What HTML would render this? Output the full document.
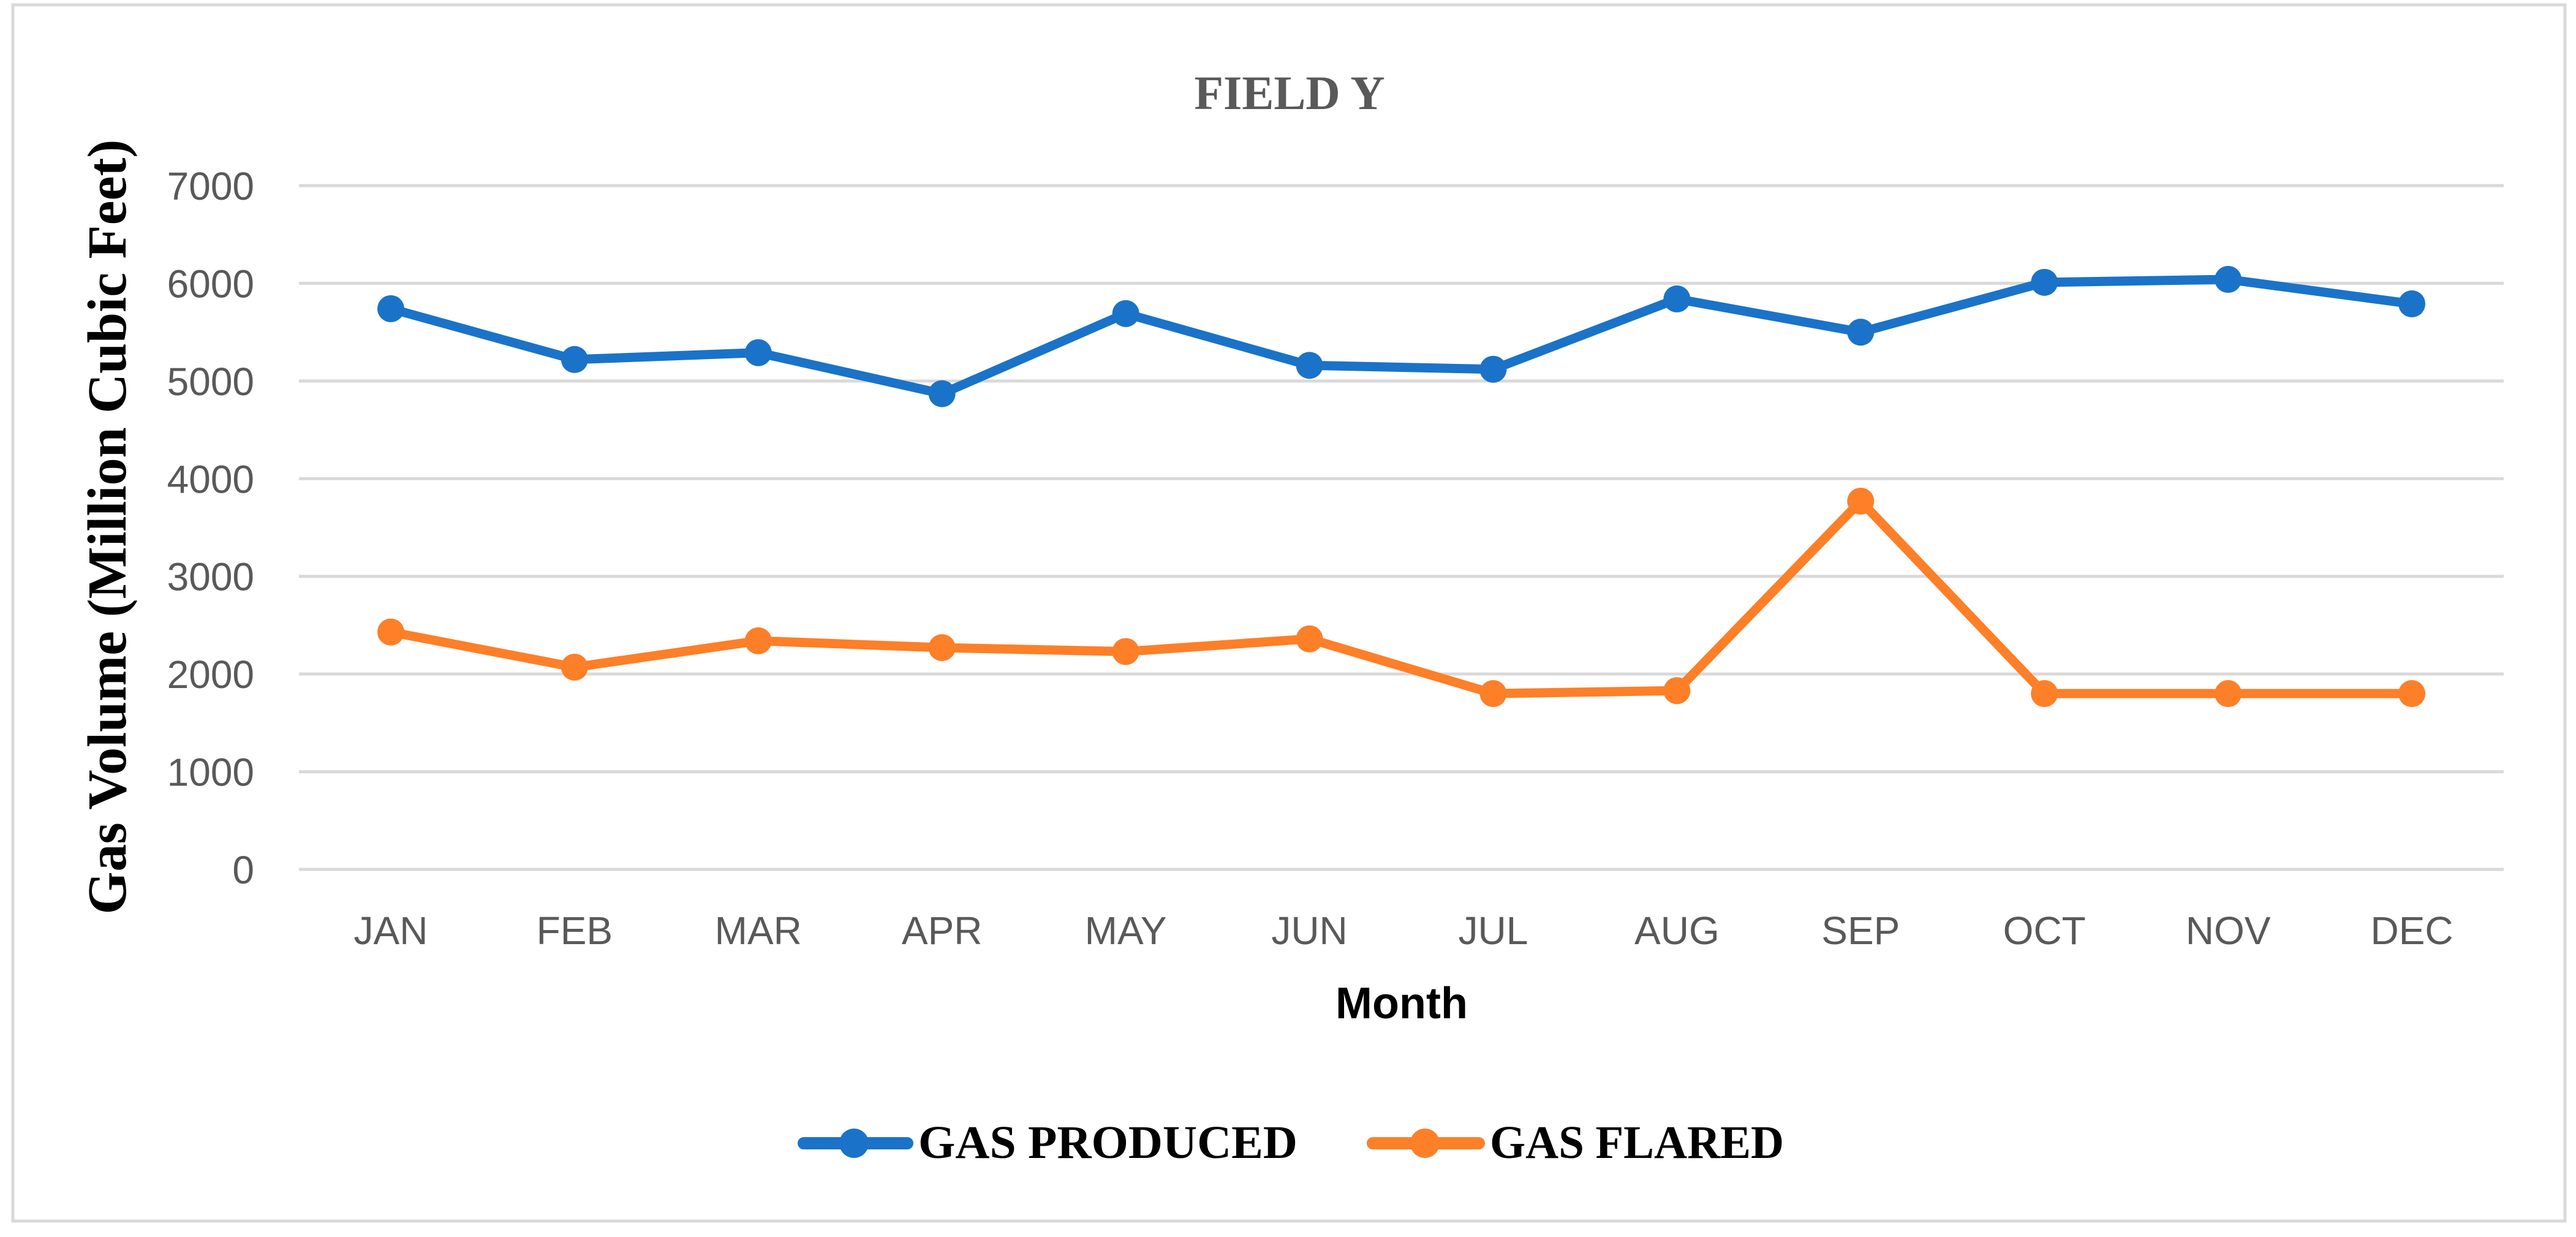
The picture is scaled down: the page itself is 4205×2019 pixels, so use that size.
<!DOCTYPE html>
<html><head><meta charset="utf-8"><style>
html,body{margin:0;padding:0;background:#fff;}
svg{display:block;}
</style></head><body>
<svg id="chart" width="4205" height="2019" xmlns="http://www.w3.org/2000/svg">
<rect x="21" y="8" width="4166" height="1985" fill="#fff" stroke="#d9d9d9" stroke-width="5"/>
<text x="2105" y="178" text-anchor="middle" font-family="Liberation Serif, serif" font-weight="bold" font-size="78" fill="#595959">FIELD Y</text>
<g id="grid"></g><g id="yticks"></g><g id="xticks"></g><g id="series"></g>
<text transform="translate(205,860) rotate(-90)" text-anchor="middle" font-family="Liberation Serif, serif" font-weight="bold" font-size="90" fill="#000">Gas Volume (Million Cubic Feet)</text>
<text x="2288" y="1662" text-anchor="middle" font-family="Liberation Sans, sans-serif" font-weight="bold" font-size="72" fill="#000">Month</text>
<g>
<g>
<line x1="1312" y1="1866" x2="1481" y2="1866" stroke="#1a73c8" stroke-width="20" stroke-linecap="round"/>
<circle cx="1394" cy="1866" r="24" fill="#1a73c8"/>
<text x="1499" y="1890" font-family="Liberation Serif, serif" font-weight="bold" font-size="76" fill="#000" textLength="619" lengthAdjust="spacingAndGlyphs">GAS PRODUCED</text>
</g>
<g>
<line x1="2241" y1="1866" x2="2414" y2="1866" stroke="#fd7f28" stroke-width="20" stroke-linecap="round"/>
<circle cx="2326" cy="1866" r="24" fill="#fd7f28"/>
<text x="2432" y="1890" font-family="Liberation Serif, serif" font-weight="bold" font-size="76" fill="#000" textLength="480" lengthAdjust="spacingAndGlyphs">GAS FLARED</text>
</g>
</g>
</svg>
<script>
const categories=["JAN","FEB","MAR","APR","MAY","JUN","JUL","AUG","SEP","OCT","NOV","DEC"];
const gasProduced=[5740,5220,5290,4870,5690,5160,5120,5840,5500,6010,6040,5790];
const gasFlared=[2430,2070,2340,2270,2230,2360,1800,1830,3770,1800,1800,1800];
const yTicks=[0,1000,2000,3000,4000,5000,6000,7000];
const NS="http://www.w3.org/2000/svg";
const L=488,R=4087,Y0=1419,Y7=303;
function x(i){return L+(R-L)/categories.length*(i+0.5);}
function y(v){return Y0-(Y0-Y7)*v/7000;}
function mk(t,a,p){const e=document.createElementNS(NS,t);for(const k in a)e.setAttribute(k,a[k]);p.appendChild(e);return e;}
const grid=document.getElementById('grid'),yt=document.getElementById('yticks'),xt=document.getElementById('xticks'),se=document.getElementById('series');
yTicks.forEach(v=>{
 const g=mk('line',{x1:L,x2:R,y1:y(v),y2:y(v),stroke:'#d9d9d9','stroke-width':5},grid);
 
 
 const t=mk('text',{x:415,y:y(v)+23,'text-anchor':'end','font-family':'Liberation Sans, sans-serif','font-size':64,fill:'#595959'},yt);
 t.textContent=v;
 
 
});
categories.forEach((c,i)=>{
 const t=mk('text',{x:x(i),y:1541,'text-anchor':'middle','font-family':'Liberation Sans, sans-serif','font-size':64,fill:'#595959'},xt);
 t.textContent=c;
 
 
});
[[gasProduced,'#1a73c8','gas-produced'],[gasFlared,'#fd7f28','gas-flared']].forEach(([d,col,n])=>{
 const g=mk('g',{},se);
 
 
 const pl=mk('polyline',{points:d.map((v,i)=>x(i)+','+y(v)).join(' '),fill:'none',stroke:col,'stroke-width':15,'stroke-linejoin':'round'},g);
 
 
 d.forEach((v,i)=>{
  const c=mk('circle',{cx:x(i),cy:y(v),r:22,fill:col},g);
  
  
 });
});
</script>
</body></html>
